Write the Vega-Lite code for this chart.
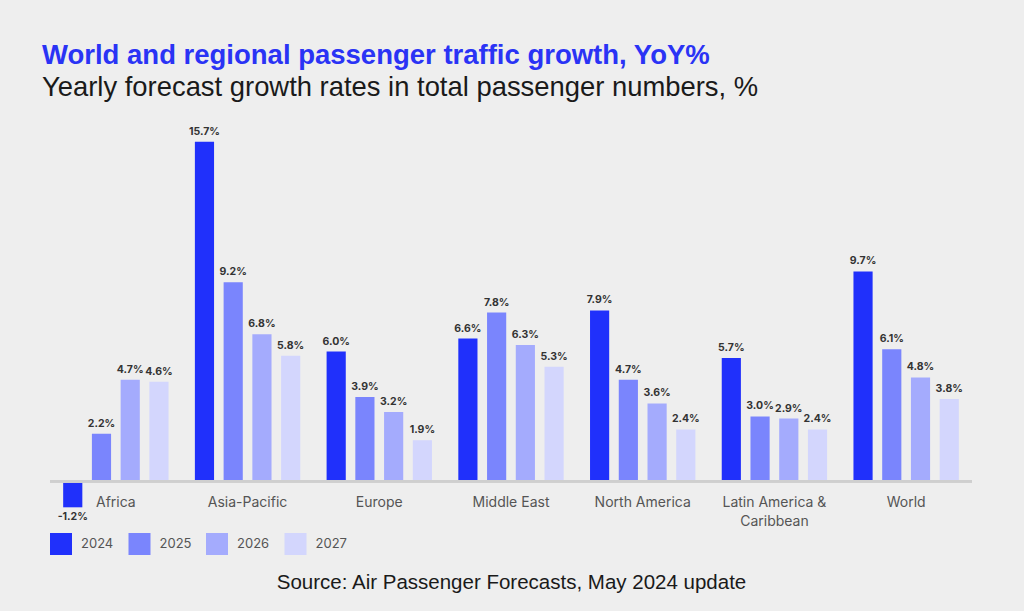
{
  "$schema": "https://vega.github.io/schema/vega-lite/v6.json",
  "width": 922,
  "height": 370,
  "autosize": "none",
  "padding": {"left": 50, "top": 120, "right": 52, "bottom": 121},
  "background": "#eeeeee",
  "title": {
    "text": "World and regional passenger traffic growth, YoY%",
    "subtitle": "Yearly forecast growth rates in total passenger numbers, %",
    "anchor": "start",
    "frame": "group",
    "dx": -8,
    "offset": 19,
    "font": "Liberation Sans",
    "fontSize": 27.5,
    "fontWeight": "bold",
    "color": "#2a33f5",
    "subtitleFont": "Liberation Sans",
    "subtitleFontSize": 27.4,
    "subtitleColor": "#1a1a1a",
    "subtitlePadding": 4
  },
  "config": {"view": {"stroke": null}},
  "data": {
    "values": [
      {"region": "Africa", "year": "2024", "value": -1.2, "label": "-1.2%"},
      {"region": "Africa", "year": "2025", "value": 2.2, "label": "2.2%"},
      {"region": "Africa", "year": "2026", "value": 4.7, "label": "4.7%"},
      {"region": "Africa", "year": "2027", "value": 4.6, "label": "4.6%"},
      {"region": "Asia-Pacific", "year": "2024", "value": 15.7, "label": "15.7%"},
      {"region": "Asia-Pacific", "year": "2025", "value": 9.2, "label": "9.2%"},
      {"region": "Asia-Pacific", "year": "2026", "value": 6.8, "label": "6.8%"},
      {"region": "Asia-Pacific", "year": "2027", "value": 5.8, "label": "5.8%"},
      {"region": "Europe", "year": "2024", "value": 6.0, "label": "6.0%"},
      {"region": "Europe", "year": "2025", "value": 3.9, "label": "3.9%"},
      {"region": "Europe", "year": "2026", "value": 3.2, "label": "3.2%"},
      {"region": "Europe", "year": "2027", "value": 1.9, "label": "1.9%"},
      {"region": "Middle East", "year": "2024", "value": 6.6, "label": "6.6%"},
      {"region": "Middle East", "year": "2025", "value": 7.8, "label": "7.8%"},
      {"region": "Middle East", "year": "2026", "value": 6.3, "label": "6.3%"},
      {"region": "Middle East", "year": "2027", "value": 5.3, "label": "5.3%"},
      {"region": "North America", "year": "2024", "value": 7.9, "label": "7.9%"},
      {"region": "North America", "year": "2025", "value": 4.7, "label": "4.7%"},
      {"region": "North America", "year": "2026", "value": 3.6, "label": "3.6%"},
      {"region": "North America", "year": "2027", "value": 2.4, "label": "2.4%"},
      {"region": "Latin America & Caribbean", "year": "2024", "value": 5.7, "label": "5.7%"},
      {"region": "Latin America & Caribbean", "year": "2025", "value": 3.0, "label": "3.0%"},
      {"region": "Latin America & Caribbean", "year": "2026", "value": 2.9, "label": "2.9%"},
      {"region": "Latin America & Caribbean", "year": "2027", "value": 2.4, "label": "2.4%"},
      {"region": "World", "year": "2024", "value": 9.7, "label": "9.7%"},
      {"region": "World", "year": "2025", "value": 6.1, "label": "6.1%"},
      {"region": "World", "year": "2026", "value": 4.8, "label": "4.8%"},
      {"region": "World", "year": "2027", "value": 3.8, "label": "3.8%"}
    ]
  },
  "encoding": {
    "x": {
      "field": "region",
      "type": "nominal",
      "sort": null,
      "scale": {"paddingInner": 0.2, "paddingOuter": 0.1},
      "axis": {
        "title": "Source: Air Passenger Forecasts, May 2024 update",
        "titleFont": "Liberation Sans",
        "titleFontSize": 20.5,
        "titleFontWeight": "normal",
        "titleColor": "#1a1a1a",
        "titlePadding": 44,
        "titleAnchor": "middle",
        "domain": false,
        "ticks": false,
        "labelAngle": 0,
        "labelFont": "Inter",
        "labelFontSize": 14,
        "labelColor": "#555555",
        "labelPadding": 5,
        "labelBaseline": "top",
        "labelLineHeight": 19,
        "labelExpr": "datum.value == 'Latin America & Caribbean' ? ['Latin America &', 'Caribbean'] : datum.value"
      }
    },
    "xOffset": {
      "field": "year",
      "type": "nominal",
      "scale": {"paddingInner": 0.333, "paddingOuter": 0}
    },
    "y": {
      "field": "value",
      "type": "quantitative",
      "scale": {"domain": [-0.4, 16.7], "nice": false, "zero": false},
      "axis": null
    }
  },
  "layer": [
    {
      "mark": {"type": "bar", "stroke": null},
      "encoding": {
        "color": {
          "field": "year",
          "type": "nominal",
          "scale": {"domain": ["2024", "2025", "2026", "2027"], "range": ["#2030fb", "#7a85fd", "#a4abfd", "#d3d6fd"]},
          "legend": {
            "title": null,
            "orient": "none",
            "legendX": 0,
            "legendY": 413,
            "direction": "horizontal",
            "symbolType": "square",
            "symbolSize": 484,
            "symbolStrokeWidth": 0,
            "labelFont": "Inter",
            "labelFontSize": 13,
            "labelColor": "#555555",
            "labelOffset": 9,
            "columnPadding": 14.5
          }
        }
      }
    },
    {
      "mark": {"type": "rule", "color": "#cfcfcf", "strokeWidth": 2},
      "encoding": {"y": {"datum": 0}, "x": null, "xOffset": null}
    },
    {
      "transform": [{"filter": "datum.value >= 0"}],
      "mark": {"type": "text", "baseline": "bottom", "dy": -5, "font": "Inter", "fontSize": 10.5, "fontWeight": "bold", "color": "#333333"},
      "encoding": {"text": {"field": "label"}}
    },
    {
      "transform": [{"filter": "datum.value < 0"}],
      "mark": {"type": "text", "baseline": "top", "dy": 5, "font": "Inter", "fontSize": 10.5, "fontWeight": "bold", "color": "#333333"},
      "encoding": {"text": {"field": "label"}}
    }
  ]
}
